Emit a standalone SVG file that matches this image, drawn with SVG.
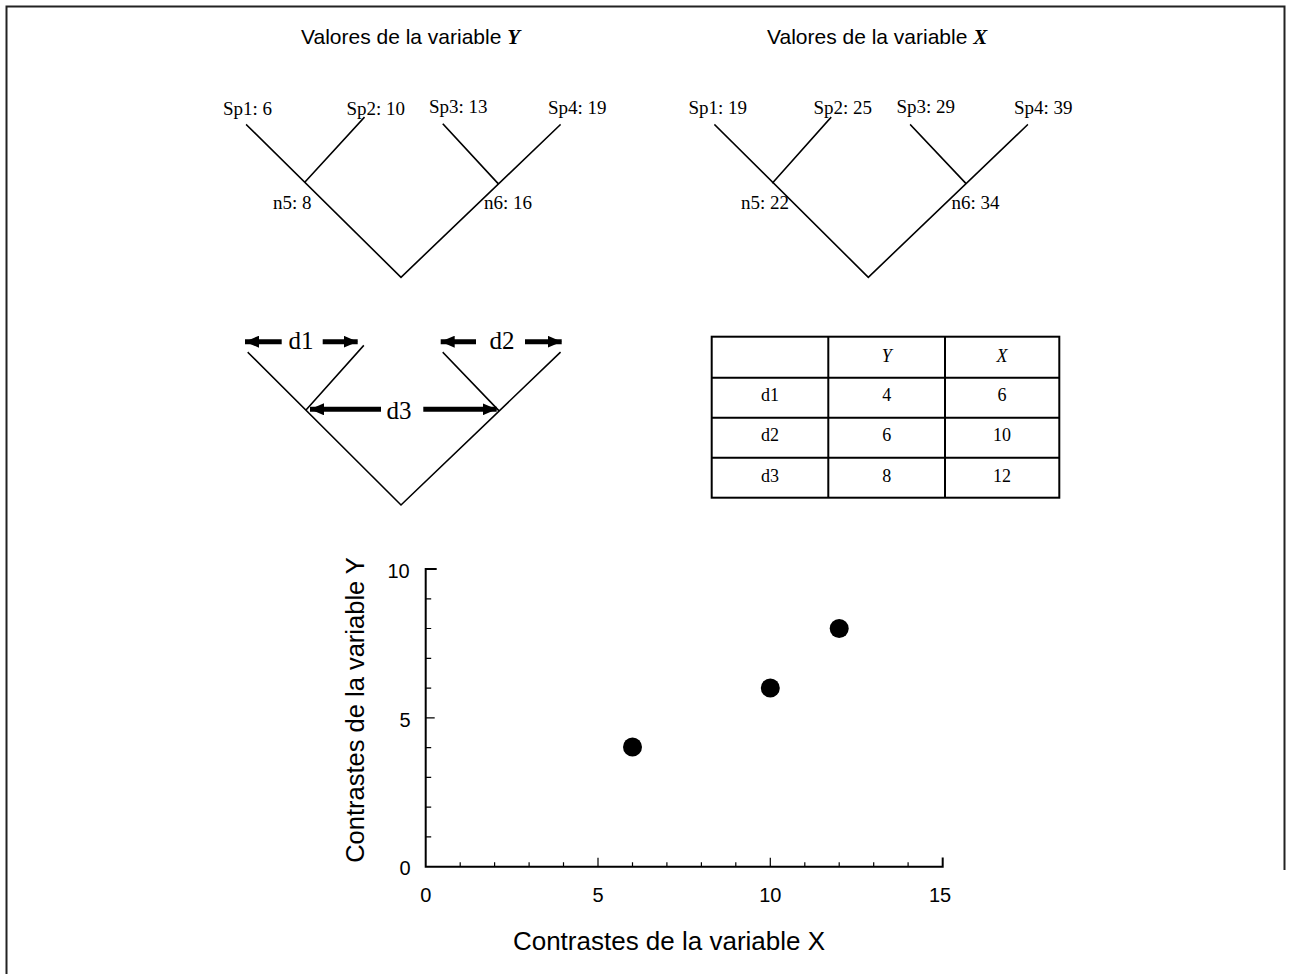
<svg xmlns="http://www.w3.org/2000/svg" width="1289" height="974" viewBox="0 0 1289 974">
<defs>
<style>
.br{stroke:#000;stroke-width:1.6;fill:none;stroke-linecap:square}
.tl{font-family:"Liberation Serif","Times New Roman",serif;font-size:19px;fill:#000}
.dl{font-family:"Liberation Serif","Times New Roman",serif;font-size:25px;fill:#000}
.tb{font-family:"Liberation Serif","Times New Roman",serif;font-size:18px;fill:#000;text-anchor:middle}
.sa{font-family:"Liberation Sans",Arial,sans-serif;fill:#000}
.ar{stroke:#000;stroke-width:5;fill:none}
.ax{stroke:#000;stroke-width:2;fill:none}
.tk{stroke:#000;stroke-width:1.2;fill:none}
.cell{stroke:#000;stroke-width:2;fill:none}
</style>
<marker id="ah" viewBox="0 0 14 12" refX="14" refY="6" markerWidth="14" markerHeight="12" markerUnits="userSpaceOnUse" orient="auto">
<path d="M0,0 L14,6 L0,12 Z" fill="#000"/>
</marker>
</defs>
<rect width="1289" height="974" fill="#fff"/>
<g id="frame" stroke="#222" stroke-width="2" fill="none">
<path d="M6.5,974 V6.5 H1284.5 V870"/>
</g>

<g id="title-y"><text class="sa" x="301" y="44" font-size="21">Valores de la variable <tspan font-family="'Liberation Serif',serif" font-style="italic" font-weight="bold">Y</tspan></text></g>
<g id="title-x"><text class="sa" x="767" y="44" font-size="21">Valores de la variable <tspan font-family="'Liberation Serif',serif" font-style="italic" font-weight="bold">X</tspan></text></g>

<g id="connectors">
<path class="br" d="M246.7,125 L401,277.3 L560,125 M364,117.7 L305,182 M443.3,124.3 L498.3,183.8"/>
<path class="br" d="M715,125 L868.3,277.3 L1027.3,125 M830.7,117.7 L772.7,182.7 M910.7,125 L966,183.5"/>
<path class="br" d="M248.3,352.7 L401,505 L560,352.7 M363.3,346 L306,410 M443.3,352.7 L498.3,410"/>
<line class="ar" x1="281.7" y1="341.7" x2="245" y2="341.7" marker-end="url(#ah)"/>
<line class="ar" x1="322.7" y1="341.7" x2="357.7" y2="341.7" marker-end="url(#ah)"/>
<line class="ar" x1="476" y1="341.7" x2="440.7" y2="341.7" marker-end="url(#ah)"/>
<line class="ar" x1="525" y1="341.7" x2="561.7" y2="341.7" marker-end="url(#ah)"/>
<line class="ar" x1="381" y1="409.3" x2="310" y2="409.3" marker-end="url(#ah)"/>
<line class="ar" x1="423.3" y1="409.3" x2="496.7" y2="409.3" marker-end="url(#ah)"/>
</g>

<g id="ytree-labels">
<text class="tl" x="223" y="115">Sp1: 6</text>
<text class="tl" x="346.5" y="114.5">Sp2: 10</text>
<text class="tl" x="429" y="112.5">Sp3: 13</text>
<text class="tl" x="548" y="114">Sp4: 19</text>
<text class="tl" x="273" y="209">n5: 8</text>
<text class="tl" x="484" y="209">n6: 16</text>
</g>
<g id="xtree-labels">
<text class="tl" x="688.5" y="113.5">Sp1: 19</text>
<text class="tl" x="813.5" y="113.5">Sp2: 25</text>
<text class="tl" x="896.5" y="112.5">Sp3: 29</text>
<text class="tl" x="1014" y="114">Sp4: 39</text>
<text class="tl" x="741" y="208.5">n5: 22</text>
<text class="tl" x="951.5" y="208.5">n6: 34</text>
</g>
<g id="contrast-labels">
<text class="dl" x="288.5" y="349">d1</text>
<text class="dl" x="489.5" y="349">d2</text>
<text class="dl" x="386.5" y="419">d3</text>
</g>

<g id="table">
<rect class="cell" x="711.7" y="336.7" width="347.6" height="161"/>
<path class="cell" d="M828.3,336.7 V497.7 M945,336.7 V497.7 M711.7,377.7 H1059.3 M711.7,417.7 H1059.3 M711.7,457.7 H1059.3"/>
<text class="tb" x="886.7" y="361.5" font-style="italic">Y</text>
<text class="tb" x="1002" y="361.5" font-style="italic">X</text>
<text class="tb" x="770" y="400.5">d1</text>
<text class="tb" x="886.7" y="400.5">4</text>
<text class="tb" x="1002" y="400.5">6</text>
<text class="tb" x="770" y="441">d2</text>
<text class="tb" x="886.7" y="441">6</text>
<text class="tb" x="1002" y="441">10</text>
<text class="tb" x="770" y="481.5">d3</text>
<text class="tb" x="886.7" y="481.5">8</text>
<text class="tb" x="1002" y="481.5">12</text>
</g>

<g id="plot">
<path class="ax" d="M436.7,569 H425.7 V866.7 H942.7 V857.5"/>
<path class="tk" d="M425.7,598.8 h5.5 M425.7,628.5 h5.5 M425.7,658.3 h5.5 M425.7,688.1 h5.5 M425.7,717.8 h9 M425.7,747.6 h5.5 M425.7,777.4 h5.5 M425.7,807.1 h5.5 M425.7,836.9 h5.5"/>
<path class="tk" d="M460.2,866.7 v-4.5 M494.6,866.7 v-4.5 M529.1,866.7 v-4.5 M563.5,866.7 v-4.5 M598,866.7 v-9 M632.5,866.7 v-4.5 M666.9,866.7 v-4.5 M701.4,866.7 v-4.5 M735.8,866.7 v-4.5 M770.3,866.7 v-9 M804.8,866.7 v-4.5 M839.2,866.7 v-4.5 M873.7,866.7 v-4.5 M908.1,866.7 v-4.5"/>
<g class="sa" font-size="20" text-anchor="middle">
<text x="398.5" y="578">10</text>
<text x="405" y="727">5</text>
<text x="405" y="875">0</text>
<text x="425.7" y="902">0</text>
<text x="598" y="902">5</text>
<text x="770.3" y="902">10</text>
<text x="940" y="902">15</text>
</g>
<text class="sa" font-size="26" text-anchor="middle" x="669" y="950">Contrastes de la variable X</text>
<text class="sa" font-size="25.5" text-anchor="middle" transform="translate(364,710) rotate(-90)">Contrastes de la variable Y</text>
<g fill="#000">
<circle cx="632.5" cy="747" r="9.5"/>
<circle cx="770.3" cy="688" r="9.5"/>
<circle cx="839.2" cy="628.5" r="9.5"/>
</g>
</g>
</svg>
